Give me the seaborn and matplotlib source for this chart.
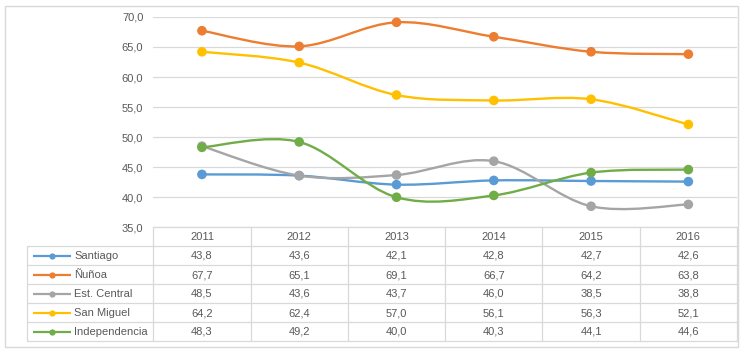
import matplotlib
matplotlib.use("Agg")
import matplotlib.pyplot as plt
from matplotlib.path import Path
from matplotlib.patches import PathPatch, Rectangle
import seaborn as sns
import pandas as pd
import numpy as np

# ---- data ----
years = ["2011", "2012", "2013", "2014", "2015", "2016"]
series_names = ["Santiago", "Ñuñoa", "Est. Central", "San Miguel", "Independencia"]
santiago = [43.8, 43.6, 42.1, 42.8, 42.7, 42.6]
nunoa = [67.7, 65.1, 69.1, 66.7, 64.2, 63.8]
est_central = [48.5, 43.6, 43.7, 46.0, 38.5, 38.8]
san_miguel = [64.2, 62.4, 57.0, 56.1, 56.3, 52.1]
independencia = [48.3, 49.2, 40.0, 40.3, 44.1, 44.6]
series_values = [santiago, nunoa, est_central, san_miguel, independencia]
colors = ["#5B9BD5", "#ED7D31", "#A5A5A5", "#FFC000", "#70AD47"]
yticks = [35, 40, 45, 50, 55, 60, 65, 70]

def fmt(v):
    return f"{v:.1f}".replace(".", ",")

sns.set_style("white")
plt.rcParams["font.family"] = ["Liberation Sans", "DejaVu Sans"]
TXT = "#595959"
GRID = "#D9D9D9"
FS = 8

W, H = 748, 357
fig = plt.figure(figsize=(W / 100, H / 100), dpi=100)

# layout in pixels
left_px, right_px = 153.3, 737.0
top_px, bot_px = 16.9, 227.3
col_w = (right_px - left_px) / len(years)

ax = fig.add_axes([left_px / W, (H - bot_px) / H, (right_px - left_px) / W, (bot_px - top_px) / H])
ax.set_xlim(-0.5, len(years) - 0.5)
ax.set_ylim(35, 70)
ax.set_yticks(yticks)
ax.set_yticklabels([fmt(v) for v in yticks], color=TXT, fontsize=FS)
ax.set_xticks([])
ax.tick_params(axis="y", length=0, pad=7.2)
for s in ax.spines.values():
    s.set_visible(False)
for v in yticks:
    ax.axhline(v, color=GRID, lw=0.9, zorder=0)
ax.patch.set_alpha(0)

# smooth (Excel-style) Bezier lines
def smooth_path(xs, ys):
    pts = np.column_stack([xs, ys]).astype(float)
    n = len(pts)
    verts = [pts[0]]
    codes = [Path.MOVETO]
    for i in range(n - 1):
        p_prev = pts[i - 1] if i > 0 else pts[i]
        p0 = pts[i]
        p1 = pts[i + 1]
        p_next = pts[i + 2] if i + 2 < n else pts[i + 1]
        c1 = p0 + (p1 - p_prev) / 6.0
        c2 = p1 - (p_next - p0) / 6.0
        verts += [c1, c2, p1]
        codes += [Path.CURVE4] * 3
    return Path(verts, codes)

xs = np.arange(len(years))
for vals, c in zip(series_values, colors):
    patch = PathPatch(smooth_path(xs, vals), facecolor="none", edgecolor=c, lw=1.7,
                      zorder=2, capstyle="round", joinstyle="round")
    ax.add_patch(patch)

rows = []
for name, vals in zip(series_names, series_values):
    for i, v in enumerate(vals):
        rows.append({"x": i, "y": v, "serie": name})
df = pd.DataFrame(rows)
sns.scatterplot(data=df, x="x", y="y", hue="serie", hue_order=series_names,
                palette=colors, s=48, edgecolor=None, linewidth=0, legend=False,
                ax=ax, zorder=3, clip_on=False)
ax.set_xlabel("")
ax.set_ylabel("")

# ---- table overlay (pixel coordinates) ----
tax = fig.add_axes([0, 0, 1, 1])
tax.set_xlim(0, W)
tax.set_ylim(H, 0)
tax.axis("off")
tax.patch.set_alpha(0)

# outer border
tax.add_patch(Rectangle((5.5, 5.5), 733, 341, fill=False, edgecolor=GRID, lw=1))

leg_left = 27.0
head_top = bot_px
head_bot = 246.0
row_h = 19.0
n_rows = len(series_names)
tab_bot = head_bot + n_rows * row_h

# horizontal lines
tax.plot([left_px, right_px], [head_top, head_top], color=GRID, lw=0.9)
for r in range(n_rows + 1):
    y = head_bot + r * row_h
    tax.plot([leg_left, right_px], [y, y], color=GRID, lw=0.9)
# vertical lines
tax.plot([leg_left, leg_left], [head_bot, tab_bot], color=GRID, lw=0.9)
for j in range(len(years) + 1):
    x = left_px + j * col_w
    tax.plot([x, x], [head_top, tab_bot], color=GRID, lw=0.9)

# header
for j, yr in enumerate(years):
    tax.text(left_px + (j + 0.5) * col_w, (head_top + head_bot) / 2 + 0.5, yr,
             ha="center", va="center", color=TXT, fontsize=FS)

# rows
for r, (name, vals, c) in enumerate(zip(series_names, series_values, colors)):
    yc = head_bot + (r + 0.5) * row_h + 0.5
    tax.plot([33, 71], [yc, yc], color=c, lw=1.6, solid_capstyle="butt")
    tax.plot([52], [yc], marker="o", color=c, markersize=4.5, markeredgewidth=0)
    tax.text(74, yc, name, ha="left", va="center", color=TXT, fontsize=FS)
    for j, v in enumerate(vals):
        tax.text(left_px + (j + 0.5) * col_w, yc, fmt(v), ha="center", va="center",
                 color=TXT, fontsize=FS)

fig.savefig("out.png", dpi=100)
